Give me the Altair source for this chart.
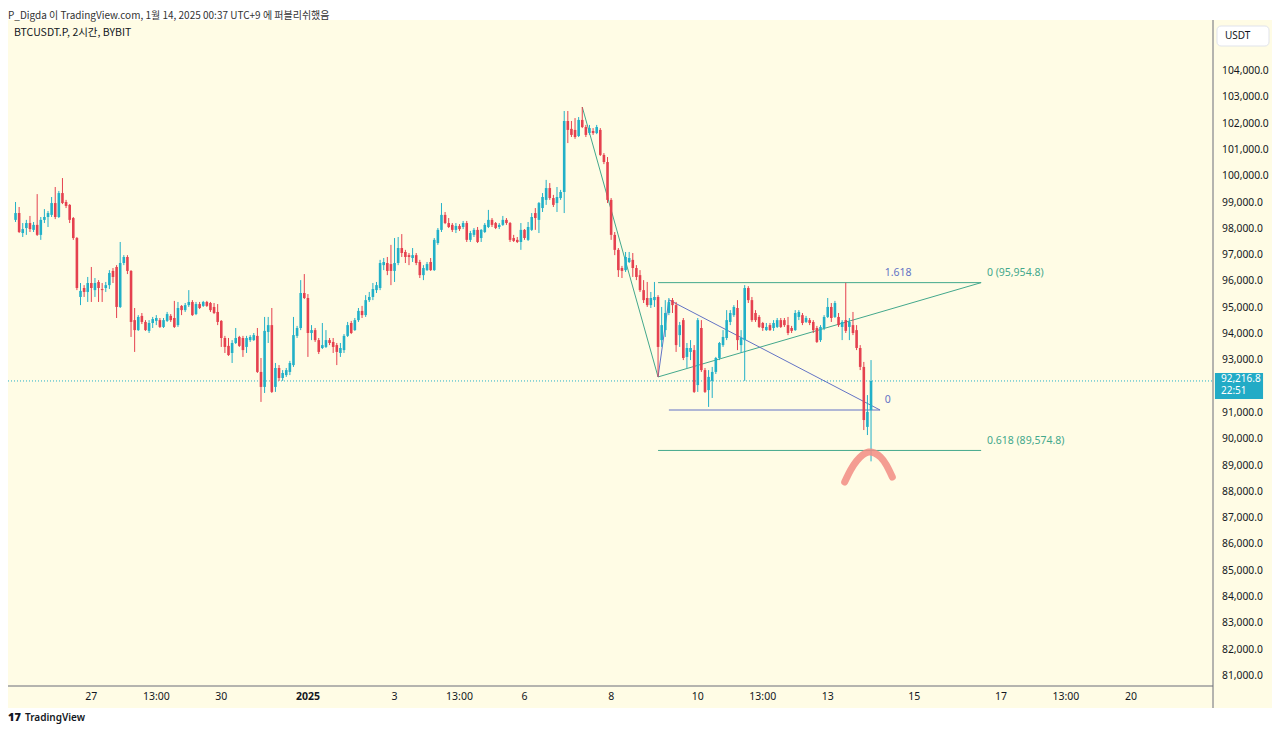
import altair as alt
import pandas as pd

# ---------------- data (BTCUSDT.P, 2h candles, prices in USDT) ----------------
# candle times: hours from 27 Dec 00:00 (UTC+9); first candle 26 Dec 06:00, last 14 Jan 00:00
hours = list(range(-42, 434, 2))

opens = [
    98340, 98600, 97840, 98030, 98220, 97960, 98150, 97770, 98340, 98450,
    98530, 98980, 98450, 99360, 99020, 98910, 98410, 97650, 95410, 95750,
    95600, 95940, 95670, 95980, 95710, 95750, 95860, 96400, 96550, 95030,
    96700, 96930, 96400, 94530, 94150, 94690, 94460, 94120, 94420, 94500,
    94530, 94270, 94500, 94690, 94610, 94340, 95070, 94910, 95100, 95220,
    94760, 95140, 95070, 95220, 95180, 95030, 94840, 94500, 93850, 93550,
    93280, 93660, 93890, 93850, 93510, 93770, 93770, 93930, 92560, 91990,
    94080, 94340, 91990, 92710, 92330, 92440, 92560, 92820, 93930, 94230,
    95560, 95370, 94040, 94150, 93770, 93470, 93510, 93770, 93700, 93580,
    93280, 93390, 93930, 94420, 94150, 94530, 94880, 94720, 95290, 95410,
    95670, 95750, 96620, 96700, 96660, 96400, 96700, 97270, 97120, 97000,
    96890, 97000, 96740, 96240, 96430, 96740, 96430, 97460, 97960, 98530,
    98220, 98150, 97960, 98110, 98070, 98220, 97580, 97770, 97960, 97650,
    97880, 98070, 98340, 98220, 98070, 98150, 98340, 98220, 97650, 97580,
    97500, 97960, 97580, 97960, 98600, 98340, 98790, 99100, 99550, 99170,
    98980, 99170, 99400, 102100, 101800, 101760, 101530, 102140, 101870, 101640,
    101720, 101640, 101760, 100810, 100540, 99100, 97770, 97200, 96510, 96430,
    96740, 96820, 96510, 96240, 95670, 95370, 95100, 95290, 95410, 93770,
    94150, 94800, 95290, 95100, 93960, 94530, 93130, 93320, 93390, 92060,
    94230, 92630, 91870, 92220, 92560, 93090, 93580, 93850, 94460, 94720,
    94990, 93580, 93770, 95750, 95290, 94800, 94650, 94420, 94150, 94340,
    94230, 94270, 94530, 94530, 94340, 94230, 94150, 94650, 94720, 94460,
    94530, 94460, 94230, 93770, 94230, 94650, 95030, 94650, 94650, 94270,
    94530, 94270, 94340, 94150, 93470, 92750, 90470, 91110,
]
highs = [
    99020, 98830, 98220, 98340, 98490, 98260, 99320, 98450, 98750, 98680,
    99210, 99590, 99440, 99930, 99100, 98940, 98450, 97690, 95940, 95860,
    96170, 96550, 96130, 96050, 95940, 95980, 96430, 96510, 96620, 97500,
    97000, 97000, 96430, 94990, 94720, 94800, 94530, 94530, 94650, 94720,
    94610, 94610, 94840, 94760, 95260, 95220, 95100, 95180, 95670, 95290,
    95220, 95220, 95260, 95260, 95220, 95180, 95140, 94530, 93930, 93850,
    93770, 94230, 93930, 93930, 93930, 93960, 94040, 94230, 93090, 94650,
    94650, 94990, 92900, 92820, 92630, 92710, 92980, 94650, 94310, 96050,
    96280, 95520, 94340, 94230, 93850, 94420, 94150, 93850, 93850, 93660,
    93660, 94000, 94460, 94500, 94610, 94990, 95070, 95480, 95600, 95940,
    95980, 96820, 96890, 96930, 97390, 97650, 97690, 97800, 97200, 97080,
    97270, 97080, 96820, 96620, 96740, 96890, 97650, 98030, 98980, 98640,
    98410, 98220, 98220, 98180, 98300, 98300, 97920, 98030, 98070, 97990,
    98220, 98720, 98410, 98260, 98220, 98490, 98410, 98260, 97770, 97690,
    98220, 97990, 98260, 98600, 98790, 99020, 99360, 99860, 99740, 99290,
    99590, 99480, 102480, 102480, 102100, 102210, 102250, 102630, 101950, 101950,
    101830, 101950, 101830, 100880, 100730, 99170, 97880, 97270, 96590, 97120,
    97120, 97080, 96620, 96430, 96050, 95980, 95600, 95980, 95480, 95030,
    95290, 95370, 95370, 95220, 94460, 94610, 93660, 93770, 93580, 94610,
    94530, 92710, 92630, 92750, 93130, 93700, 94150, 94910, 94910, 95100,
    95290, 94150, 95860, 95820, 95410, 94910, 94720, 94460, 94420, 94420,
    94530, 94610, 94610, 94610, 94650, 94310, 94910, 94910, 94800, 94690,
    94610, 94530, 94310, 94340, 94720, 95370, 95180, 95260, 94800, 94530,
    95950, 94610, 94840, 94340, 93580, 92940, 91680, 93010,
]
lows = [
    98260, 97840, 97690, 97770, 97880, 97880, 97730, 97580, 98220, 98070,
    98450, 98370, 98410, 98940, 98790, 98220, 97580, 95670, 95100, 95410,
    95220, 95220, 95410, 95220, 95220, 95600, 95710, 95940, 94610, 94990,
    96620, 96280, 93890, 93320, 94120, 94380, 94120, 94040, 94230, 94340,
    94230, 94230, 94460, 94460, 94230, 94270, 94720, 94840, 95030, 94690,
    94720, 94950, 95030, 95030, 94840, 94760, 94340, 93510, 93280, 93170,
    92900, 93620, 93510, 93130, 93280, 93700, 93740, 92520, 91420, 91760,
    93660, 91760, 91800, 92220, 92220, 92370, 92440, 92750, 93850, 94150,
    95330, 93130, 93770, 93700, 93240, 93430, 93470, 93580, 93280, 92820,
    93130, 93280, 93890, 94000, 94120, 94460, 94610, 94650, 95220, 95290,
    95560, 95670, 96430, 96240, 95860, 95980, 96620, 96930, 96700, 96620,
    96740, 96620, 96130, 96050, 96400, 96400, 96400, 97390, 97880, 98180,
    98030, 97880, 97840, 97920, 97990, 97500, 97500, 97690, 97460, 97500,
    97840, 98030, 98070, 97990, 97990, 98110, 98150, 97500, 97500, 97460,
    97200, 97580, 97540, 97920, 97960, 97840, 98640, 98910, 99100, 98830,
    98640, 99100, 98600, 101260, 101490, 101420, 101490, 101830, 101490, 101570,
    101570, 101600, 100770, 100460, 98980, 97580, 97000, 96170, 96130, 96360,
    96700, 96170, 96050, 95600, 95180, 95030, 94990, 95030, 92370, 93510,
    93890, 94720, 94800, 93320, 93510, 93010, 92710, 93010, 91760, 91800,
    92560, 91760, 91230, 91570, 92480, 93010, 93510, 93770, 94340, 94650,
    93390, 93280, 92220, 95180, 94460, 94460, 94230, 94120, 94120, 94120,
    94120, 94230, 94230, 94270, 93960, 94040, 94120, 94530, 94340, 94420,
    94340, 94040, 93660, 93700, 94150, 94610, 94460, 94610, 94270, 93770,
    94040, 93770, 93960, 93390, 92630, 90350, 90160, 89160,
]
closes = [
    98600, 97880, 97990, 98220, 97990, 98150, 97770, 98340, 98450, 98600,
    98980, 98450, 99360, 98980, 98870, 98340, 97650, 95750, 95640, 95600,
    95940, 95750, 95940, 95750, 95670, 95860, 96320, 96170, 95030, 96700,
    96930, 96400, 94460, 94150, 94650, 94460, 94150, 94420, 94570, 94610,
    94270, 94530, 94760, 94530, 94270, 94990, 94910, 95100, 95220, 94720,
    95140, 94990, 95220, 95070, 94910, 94800, 94460, 93850, 93510, 93200,
    93660, 93850, 93550, 93390, 93850, 93890, 93960, 92560, 91990, 94120,
    94340, 91800, 92710, 92330, 92520, 92630, 92900, 93960, 94230, 95560,
    95370, 94040, 94150, 93770, 93320, 93580, 93770, 93660, 93510, 93320,
    93470, 93930, 94340, 94040, 94530, 94880, 94720, 95290, 95410, 95710,
    95860, 96700, 96740, 96400, 96400, 96700, 97270, 97080, 96930, 96930,
    97000, 96700, 96240, 96510, 96660, 96430, 97580, 97960, 98530, 98220,
    98070, 97960, 98110, 97990, 98220, 97580, 97840, 97960, 97500, 97960,
    98150, 98340, 98150, 98030, 98150, 98340, 98220, 97580, 97540, 97500,
    97960, 97650, 98070, 98450, 98410, 98980, 99210, 99550, 99170, 98910,
    99210, 99400, 102100, 101760, 101570, 101490, 102140, 101870, 101570, 101830,
    101640, 101870, 100810, 100540, 99100, 97770, 97200, 96430, 96400, 96930,
    96890, 96510, 96170, 95670, 95290, 95100, 95370, 95410, 93510, 94340,
    94800, 95220, 95100, 93580, 94340, 93090, 93470, 93470, 91800, 94530,
    92630, 91800, 92370, 92560, 93090, 93660, 93890, 94530, 94800, 95030,
    93770, 93850, 95750, 95290, 94530, 94530, 94270, 94230, 94270, 94150,
    94420, 94530, 94270, 94340, 94040, 94120, 94800, 94840, 94420, 94610,
    94420, 94150, 93700, 94270, 94650, 95030, 94610, 95180, 94340, 94460,
    94120, 94460, 94040, 93470, 92750, 90730, 91040, 92216.8,
]
last_price = 92216.8
countdown = "22:51"

# time axis labels
tick_hours = [0, 36, 72, 120, 168, 204, 240, 288, 336, 372, 408, 456, 504, 540, 576]
tick_labels = ["27", "13:00", "30", "2025", "3", "13:00", "6", "8", "10",
               "13:00", "13", "15", "17", "13:00", "20"]
# price-scale labels that are visible (92,000 sits under the last-price tag, 105,000 under "USDT")
price_ticks = [p for p in range(81000, 105000, 1000) if p != 92000]

# drawing tools (hours, price)
seg_h1 = [272, 314, 314, 314, 314, 320, 320]
seg_p1 = [102630, 92370, 95954.8, 89574.8, 92370, 95300, 91112]
seg_h2 = [314, 493, 493, 493, 320, 437, 437]
seg_p2 = [92370, 95954.8, 95954.8, 89574.8, 95300, 91112, 91112]
seg_kind = ["g", "g", "g", "g", "b", "b", "b"]

fib_text = ["1.618", "0 (95,954.8)", "0", "0.618 (89,574.8)"]
fib_text_h = [439.6, 496.2, 439.6, 496.2]
fib_text_p = [96320, 96320, 91492, 89934]
fib_text_kind = ["b", "g", "b", "g"]

arc_h = [417.4, 420.7, 424.0, 427.3, 430.6, 433.9, 437.2, 440.5, 443.8]
arc_p = [88375, 88831, 89173, 89401, 89515, 89477, 89325, 89021, 88565]

# ---------------- style ----------------
W, H = 1205, 666
X_DOMAIN = [-43.4, 618.7]
Y_DOMAIN = [80620, 105939]
UP = "#22B0C8"
DOWN = "#E5414F"
GREEN = "#43A88C"
BLUE = "#6373C5"
BG = "#FFFCE5"
TXT = "#131722"
AXIS_LINE = "#6A6D78"
FONT = "Noto Sans"
KFONT = "Noto Sans CJK KR"
KIND_HEX = {"g": GREEN, "b": BLUE}

xs = alt.Scale(domain=X_DOMAIN, nice=False, zero=False)
ys = alt.Scale(domain=Y_DOMAIN, nice=False, zero=False)

candles = pd.DataFrame({
    "h": hours, "o": opens, "hi": highs, "lo": lows, "c": closes,
    "col": [UP if c >= o else DOWN for o, c in zip(opens, closes)],
})

one = pd.DataFrame({"a": [0]})

# white strips outside TradingView's chart frame (chart background itself is the pane colour)
top_strip = alt.Chart(one).mark_rect(color="white").encode(
    x=alt.value(0), x2=alt.value(1264), y=alt.value(-12), y2=alt.value(0))
bottom_strip = alt.Chart(one).mark_rect(color="white").encode(
    x=alt.value(0), x2=alt.value(1264), y=alt.value(688), y2=alt.value(706))

# frame separators (price scale / time scale borders)
sep_v = alt.Chart(one).mark_rule(color=AXIS_LINE, strokeWidth=1).encode(
    x=alt.value(W), y=alt.value(0), y2=alt.value(688))
sep_h = alt.Chart(one).mark_rule(color=AXIS_LINE, strokeWidth=1).encode(
    x=alt.value(0), x2=alt.value(W), y=alt.value(H))

# price-scale labels, placed through the y scale
ytick_df = pd.DataFrame({"p": price_ticks})
ylabels = alt.Chart(ytick_df).mark_text(
    align="left", baseline="middle", fontSize=10.3, font=FONT, color=TXT).encode(
    x=alt.value(W + 9), y=alt.Y("p:Q", scale=ys, axis=None),
    text=alt.Text("p:Q", format=",.1f"))

# time-scale labels, placed through the x scale
xtick_df = pd.DataFrame({"h": tick_hours, "t": tick_labels})
xlabels = alt.Chart(xtick_df).transform_filter("datum.t != '2025'").mark_text(
    align="center", baseline="middle", fontSize=10.5, font=FONT, color=TXT).encode(
    x=alt.X("h:Q", scale=xs, axis=None), y=alt.value(H + 11), text="t:N")
xlabel_year = alt.Chart(xtick_df).transform_filter("datum.t == '2025'").mark_text(
    align="center", baseline="middle", fontSize=10.5, font=FONT, fontWeight="bold", color=TXT).encode(
    x=alt.X("h:Q", scale=xs, axis=None), y=alt.value(H + 11), text="t:N")

price_line = alt.Chart(pd.DataFrame({"p": [last_price]})).mark_rule(
    color=UP, strokeDash=[1, 2], strokeWidth=1).encode(
    y=alt.Y("p:Q", scale=ys, axis=None), x=alt.value(0), x2=alt.value(W))

segs = alt.Chart(pd.DataFrame({"h1": seg_h1, "p1": seg_p1, "h2": seg_h2, "p2": seg_p2,
                               "col": [KIND_HEX[k] for k in seg_kind]})).mark_rule(strokeWidth=1).encode(
    x=alt.X("h1:Q", scale=xs, axis=None), x2="h2:Q",
    y=alt.Y("p1:Q", scale=ys, axis=None), y2="p2:Q", color=alt.Color("col:N", scale=None))

wicks = alt.Chart(candles).mark_rule(strokeWidth=1).encode(
    x=alt.X("h:Q", scale=xs, axis=None),
    y=alt.Y("lo:Q", scale=ys, axis=None), y2="hi:Q", color=alt.Color("col:N", scale=None))

bodies = alt.Chart(candles).mark_bar(width=2.6).encode(
    x=alt.X("h:Q", scale=xs, axis=None),
    y=alt.Y("o:Q", scale=ys, axis=None), y2="c:Q", color=alt.Color("col:N", scale=None))

arc = alt.Chart(pd.DataFrame({"h": arc_h, "p": arc_p, "i": list(range(len(arc_h)))})).mark_line(
    color="#F28C84", strokeWidth=7, strokeCap="round", interpolate="natural", opacity=0.85).encode(
    x=alt.X("h:Q", scale=xs, axis=None), y=alt.Y("p:Q", scale=ys, axis=None), order="i:Q")

fib_labels = alt.Chart(pd.DataFrame({"t": fib_text, "h": fib_text_h, "p": fib_text_p,
                                     "col": [KIND_HEX[k] for k in fib_text_kind]})).mark_text(
    align="left", baseline="middle", fontSize=10.5, font=FONT).encode(
    x=alt.X("h:Q", scale=xs, axis=None), y=alt.Y("p:Q", scale=ys, axis=None),
    text="t:N", color=alt.Color("col:N", scale=None))

last_df = pd.DataFrame({"p": [last_price], "t": ["92,216.8"], "cd": [countdown]})
price_box = alt.Chart(last_df).mark_point(
    shape="M-1.85,-1L1.85,-1L1.85,1L-1.85,1Z", filled=True, size=676, opacity=1,
    color="#22ABC6", yOffset=5).encode(
    x=alt.value(1231), y=alt.Y("p:Q", scale=ys, axis=None))
price_txt = alt.Chart(last_df).mark_text(
    align="left", baseline="middle", fontSize=10, font=FONT, color="white", dy=-2).encode(
    x=alt.value(1213), y=alt.Y("p:Q", scale=ys, axis=None), text="t:N")
count_txt = alt.Chart(last_df).mark_text(
    align="left", baseline="middle", fontSize=10, font=FONT, color="white", dy=10.5).encode(
    x=alt.value(1213), y=alt.Y("p:Q", scale=ys, axis=None), text="cd:N")

usdt_box = alt.Chart(one).mark_rect(fill="white", stroke="#E0E3EB", cornerRadius=4).encode(
    x=alt.value(1209), x2=alt.value(1261), y=alt.value(6), y2=alt.value(26))
usdt_txt = alt.Chart(one).mark_text(
    align="left", baseline="middle", fontSize=10, font=FONT, color=TXT).encode(
    x=alt.value(1217), y=alt.value(16), text=alt.value("USDT"))

header = alt.Chart(one).mark_text(
    align="left", baseline="middle", fontSize=10, font=KFONT, color="#333333").encode(
    x=alt.value(0), y=alt.value(-4),
    text=alt.value("P_Digda 이 TradingView.com, 1월 14, 2025 00:37 UTC+9 에 퍼블리쉬했음"))
symbol = alt.Chart(one).mark_text(
    align="left", baseline="middle", fontSize=10.5, font=KFONT, color=TXT).encode(
    x=alt.value(6), y=alt.value(13), text=alt.value("BTCUSDT.P, 2시간, BYBIT"))
logo_mark = alt.Chart(one).mark_text(
    align="left", baseline="middle", fontSize=11, font=FONT, fontWeight=900, color=TXT).encode(
    x=alt.value(0), y=alt.value(698), text=alt.value("17"))
logo_txt = alt.Chart(one).mark_text(
    align="left", baseline="middle", fontSize=10, font=FONT, fontWeight=600, color=TXT).encode(
    x=alt.value(17), y=alt.value(698), text=alt.value("TradingView"))

chart = alt.layer(
    price_line, segs, wicks, bodies, arc, fib_labels,
    sep_v, sep_h, ylabels, xlabels, xlabel_year,
    price_box, price_txt, count_txt, usdt_box, usdt_txt,
    top_strip, bottom_strip, header, symbol, logo_mark, logo_txt,
).properties(
    width=W, height=H,
    padding={"left": 0, "top": 12, "right": 59, "bottom": 40},
    autosize=alt.AutoSizeParams(type="none"),
    background=BG,
).configure_view(stroke=None)

chart.save("out.html", embed_options={"renderer": "svg", "actions": False})
